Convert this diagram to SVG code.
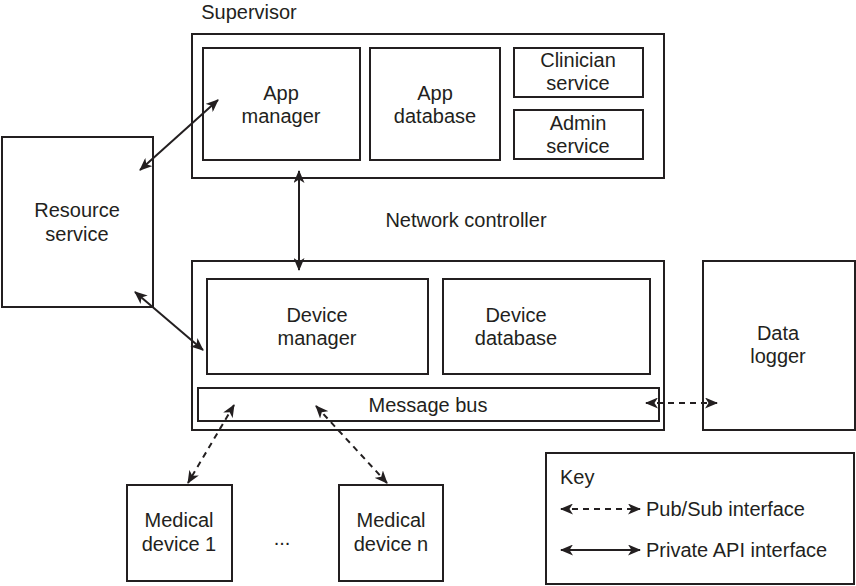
<svg xmlns="http://www.w3.org/2000/svg" width="856" height="586" viewBox="0 0 856 586">
<style>
rect{fill:#fff;stroke:#231f20;stroke-width:2}
text{font-family:"Liberation Sans",Arial,sans-serif;font-size:20px;fill:#231f20;text-anchor:middle}
.l{text-anchor:start}
.c{stroke:#231f20;stroke-width:2;fill:none;marker-start:url(#ah);marker-end:url(#ah)}
.d{stroke-dasharray:6 5}
</style>
<defs>
<marker id="ah" viewBox="0 0 13 11" refX="12" refY="5.5" markerWidth="13" markerHeight="11" markerUnits="userSpaceOnUse" orient="auto-start-reverse">
<path d="M0,0 L13,5.5 L0,11 L3.5,5.5 z" fill="#231f20"/>
</marker>
</defs>
<rect width="856" height="586" style="stroke:none"/>
<g id="supervisor">
<rect x="192" y="34" width="472" height="144"/>
<text x="249" y="19">Supervisor</text>
</g>
<g id="app-manager"><rect x="203" y="48" width="157" height="112"/><text x="281" y="100">App</text><text x="281" y="123">manager</text></g>
<g id="app-database"><rect x="370" y="48" width="130" height="112"/><text x="435" y="100">App</text><text x="435" y="123">database</text></g>
<g id="clinician-service"><rect x="514" y="48" width="129" height="49"/><text x="578" y="67">Clinician</text><text x="578" y="90">service</text></g>
<g id="admin-service"><rect x="514" y="110" width="129" height="49"/><text x="578" y="130">Admin</text><text x="578" y="153">service</text></g>
<g id="resource-service"><rect x="2" y="137" width="151" height="170"/><text x="77" y="217">Resource</text><text x="77" y="241">service</text></g>
<g id="network-controller"><rect x="192" y="261" width="472" height="169"/><text x="466" y="227">Network controller</text></g>
<g id="device-manager"><rect x="207" y="279" width="221" height="95"/><text x="317" y="322">Device</text><text x="317" y="345">manager</text></g>
<g id="device-database"><rect x="443" y="279" width="207" height="95"/><text x="516" y="322">Device</text><text x="516" y="345">database</text></g>
<g id="message-bus"><rect x="198" y="388" width="461" height="33"/><text x="428" y="412">Message bus</text></g>
<g id="data-logger"><rect x="703" y="261" width="152" height="169"/><text x="778" y="340">Data</text><text x="778" y="363">logger</text></g>
<g id="medical-device-1"><rect x="127" y="485" width="105" height="96"/><text x="179" y="527">Medical</text><text x="179" y="551">device 1</text></g>
<text x="282" y="545">...</text>
<g id="medical-device-n"><rect x="339" y="485" width="104" height="96"/><text x="391" y="527">Medical</text><text x="391" y="551">device n</text></g>
<g id="key">
<rect x="546" y="453" width="308" height="131"/>
<text class="l" x="560" y="484">Key</text>
<line class="c d" x1="561" y1="509" x2="640" y2="509"/>
<text class="l" x="646" y="516">Pub/Sub interface</text>
<line class="c" x1="561" y1="550" x2="640" y2="550"/>
<text class="l" x="646" y="557">Private API interface</text>
</g>
<g id="connectors">
<line class="c" x1="140" y1="170" x2="218" y2="100"/>
<line class="c" x1="299" y1="171" x2="299" y2="270"/>
<line class="c" x1="135" y1="292" x2="203" y2="350"/>
<line class="c d" x1="234" y1="405" x2="188" y2="483"/>
<line class="c d" x1="316" y1="406" x2="387" y2="483"/>
<line class="c d" x1="646" y1="403" x2="717" y2="403"/>
</g>
</svg>
